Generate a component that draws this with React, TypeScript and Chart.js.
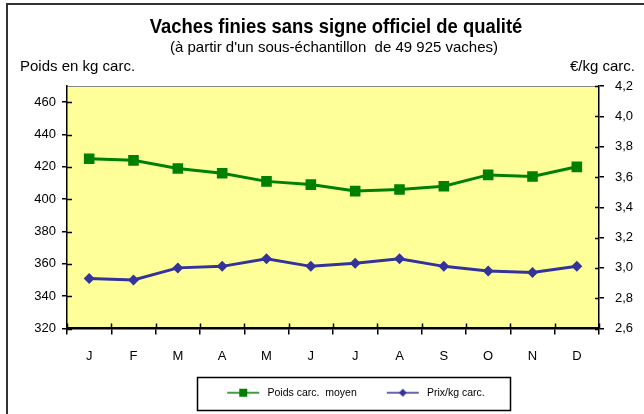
import React, { useEffect, useRef } from "react";
import { Chart, registerables } from "chart.js";

Chart.register(...registerables);

const months = ["J", "F", "M", "A", "M", "J", "J", "A", "S", "O", "N", "D"];
const poids = [425, 424, 419, 416, 411, 409, 405, 406, 408, 415, 414, 420];
const prix = [2.93, 2.92, 3.0, 3.01, 3.06, 3.01, 3.03, 3.06, 3.01, 2.98, 2.97, 3.01];

const titleText = "Vaches finies sans signe officiel de qualité";
const subtitleText = "(à partir d'un sous-échantillon  de 49 925 vaches)";
const leftUnit = "Poids en kg carc.";
const rightUnit = "€/kg carc.";
const seriesNames = ["Poids carc.  moyen", "Prix/kg carc."];

const FONT = "'Liberation Sans', Arial, sans-serif";
const GREEN = "#008000";
const BLUE = "#333399";
const ICON_PAD = 20;
const ICON_LINE = 32;
const ICON_W = ICON_PAD + ICON_LINE + 3;

function makeLegendIcon(color: string, style: "rect" | "diamond"): HTMLCanvasElement {
  const c = document.createElement("canvas");
  c.width = ICON_W;
  c.height = 12;
  const ctx = c.getContext("2d")!;
  ctx.strokeStyle = color;
  ctx.lineWidth = 1.5;
  ctx.beginPath();
  ctx.moveTo(ICON_PAD, 6);
  ctx.lineTo(ICON_PAD + ICON_LINE, 6);
  ctx.stroke();
  ctx.fillStyle = color;
  const cx = ICON_PAD + ICON_LINE / 2;
  if (style === "rect") {
    ctx.fillRect(cx - 4, 2, 8, 8);
  } else {
    ctx.beginPath();
    ctx.moveTo(cx, 2);
    ctx.lineTo(cx + 4, 6);
    ctx.lineTo(cx, 10);
    ctx.lineTo(cx - 4, 6);
    ctx.closePath();
    ctx.fill();
  }
  return c;
}

const decorPlugin = {
  id: "decor",
  afterLayout(chart: any) {
    const lg = chart.legend;
    if (lg) {
      lg.left += 24;
      lg.right += 24;
    }
  },
  beforeDraw(chart: any) {
    const { ctx, chartArea } = chart;
    ctx.save();
    ctx.fillStyle = "#fff";
    ctx.fillRect(0, 0, chart.width, chart.height);
    ctx.fillStyle = "#FFFF99";
    ctx.fillRect(chartArea.left, chartArea.top, chartArea.right - chartArea.left, chartArea.bottom - chartArea.top);
    ctx.strokeStyle = "#888";
    ctx.lineWidth = 1;
    ctx.beginPath();
    ctx.moveTo(chartArea.left, chartArea.top + 0.5);
    ctx.lineTo(chartArea.right, chartArea.top + 0.5);
    ctx.stroke();
    // outer frame (left and top edges)
    ctx.strokeStyle = "#333";
    ctx.lineWidth = 2;
    ctx.beginPath();
    ctx.moveTo(7, chart.height);
    ctx.lineTo(7, 4);
    ctx.lineTo(chart.width, 4);
    ctx.stroke();
    ctx.restore();
  },
  afterDraw(chart: any) {
    const { ctx, chartArea } = chart;
    ctx.save();
    ctx.fillStyle = "#000";
    // title (condensed)
    ctx.textBaseline = "alphabetic";
    ctx.textAlign = "center";
    ctx.font = `bold 21px ${FONT}`;
    ctx.save();
    ctx.translate(336, 33);
    ctx.scale(0.877, 1);
    ctx.fillText(titleText, 0, 0);
    ctx.restore();
    ctx.textBaseline = "middle";
    ctx.font = `15px ${FONT}`;
    ctx.fillText(subtitleText, 334, 48);
    ctx.textAlign = "left";
    ctx.fillText(leftUnit, 20, 67);
    ctx.textAlign = "right";
    ctx.fillText(rightUnit, 635, 67);

    // inner tick marks (ticks cross the axes)
    ctx.strokeStyle = "#000";
    ctx.lineWidth = 1.5;
    const y = chart.scales.y;
    const y1 = chart.scales.y1;
    const x = chart.scales.x;
    ctx.beginPath();
    y.ticks.forEach((_t: any, i: number) => {
      const p = Math.round(y.getPixelForTick(i)) + 0.5;
      ctx.moveTo(chartArea.left, p);
      ctx.lineTo(chartArea.left + 5, p);
    });
    y1.ticks.forEach((_t: any, i: number) => {
      const p = Math.round(y1.getPixelForTick(i)) + 0.5;
      ctx.moveTo(chartArea.right - 4, p);
      ctx.lineTo(chartArea.right, p);
    });
    const half = (x.getPixelForValue(1) - x.getPixelForValue(0)) / 2;
    for (let i = 0; i <= months.length; i++) {
      const p = Math.round(x.getPixelForValue(i) - half) + 0.5;
      ctx.moveTo(p, chartArea.bottom);
      ctx.lineTo(p, chartArea.bottom - 5);
    }
    ctx.stroke();

    // legend frame
    const lg = chart.legend;
    if (lg && lg.legendHitBoxes && lg.legendHitBoxes.length) {
      const boxes = lg.legendHitBoxes;
      const first = boxes[0];
      const last = boxes[boxes.length - 1];
      const l = Math.round(first.left + ICON_PAD - 30) + 0.5;
      const r = Math.round(last.left + last.width + 25) + 0.5;
      ctx.strokeStyle = "#000";
      ctx.lineWidth = 1.5;
      ctx.strokeRect(l, Math.round(lg.top) - 0.5, r - l, Math.round(lg.height) + 2);
    }
    ctx.restore();
  },
};

export default function App() {
  const ref = useRef<HTMLCanvasElement>(null);
  useEffect(() => {
    if (!ref.current) return;
    const icons = [makeLegendIcon(GREEN, "rect"), makeLegendIcon(BLUE, "diamond")];
    const chart = new Chart(ref.current, {
      type: "line",
      data: {
        labels: months,
        datasets: [
          {
            label: seriesNames[0],
            data: poids,
            yAxisID: "y",
            borderColor: GREEN,
            backgroundColor: GREEN,
            borderWidth: 3,
            pointStyle: "rect",
            pointRadius: 7.5,
            pointHoverRadius: 7.5,
            pointBorderWidth: 0,
            tension: 0,
          },
          {
            label: seriesNames[1],
            data: prix,
            yAxisID: "y1",
            borderColor: BLUE,
            backgroundColor: BLUE,
            borderWidth: 3,
            pointStyle: "rectRot",
            pointRadius: 5.5,
            pointHoverRadius: 5.5,
            pointBorderWidth: 0,
            tension: 0,
          },
        ],
      },
      options: {
        animation: false,
        responsive: true,
        maintainAspectRatio: false,
        layout: { padding: { top: 86, left: 0, right: 0, bottom: 6 } },
        plugins: {
          title: { display: false },
          tooltip: { enabled: false },
          legend: {
            display: true,
            position: "bottom",
            labels: {
              color: "#000",
              font: { family: FONT, size: 10.5 },
              usePointStyle: true,
              pointStyleWidth: ICON_W,
              padding: 10,
              generateLabels: (chart: any) =>
                chart.data.datasets.map((ds: any, i: number) => ({
                  text: ds.label,
                  pointStyle: icons[i],
                  fillStyle: ds.borderColor,
                  strokeStyle: ds.borderColor,
                  lineWidth: 0,
                  hidden: false,
                  datasetIndex: i,
                  fontColor: "#000",
                })),
            },
          },
        },
        scales: {
          x: {
            offset: true,
            grid: { display: true, drawOnChartArea: false, drawTicks: true, tickLength: 6, color: "#000", lineWidth: 1.5, offset: true },
            border: { display: true, color: "#000", width: 2.5 },
            ticks: { color: "#000", font: { family: FONT, size: 13 }, padding: 14, maxRotation: 0 },
            afterFit: (s: any) => { s.height = 49; },
          },
          y: {
            position: "left",
            min: 320,
            max: 470,
            grid: { display: true, drawOnChartArea: false, drawTicks: true, tickLength: 5, color: "#000", lineWidth: 1.5 },
            border: { display: true, color: "#000", width: 1.5 },
            ticks: { stepSize: 20, includeBounds: false, color: "#000", font: { family: FONT, size: 13 }, padding: 6 },
            afterFit: (s: any) => { s.width = 67; },
          },
          y1: {
            position: "right",
            min: 2.6,
            max: 4.2,
            grid: { display: true, drawOnChartArea: false, drawTicks: true, tickLength: 5, color: "#000", lineWidth: 1.5 },
            border: { display: true, color: "#000", width: 1.5 },
            ticks: {
              stepSize: 0.2,
              color: "#000",
              font: { family: FONT, size: 13 },
              padding: 11,
              callback: (v: any) => Number(v).toFixed(1).replace(".", ","),
            },
            afterFit: (s: any) => { s.width = 45; },
          },
        },
      },
      plugins: [decorPlugin],
    });
    return () => chart.destroy();
  }, []);
  return (
    <div style={{ position: "absolute", left: 0, top: 0, width: 644, height: 414 }}>
      <canvas ref={ref} />
    </div>
  );
}
